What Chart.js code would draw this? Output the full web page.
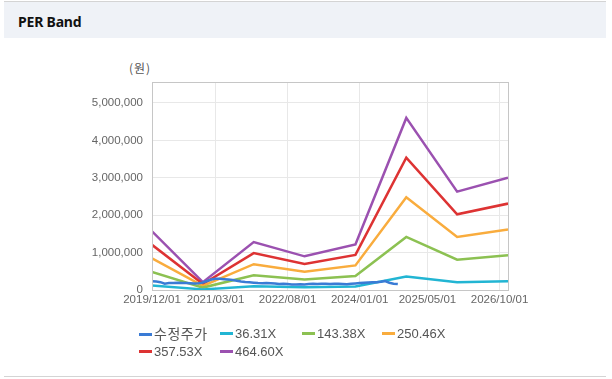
<!DOCTYPE html>
<html>
<head>
<meta charset="utf-8">
<script src="https://cdn.jsdelivr.net/npm/chart.js@4/dist/chart.umd.min.js"></script>
<style>
  html, body { margin:0; padding:0; background:#ffffff; }
  #wrap { position:relative; width:612px; height:379px; overflow:hidden; background:#ffffff;
          font-family:"Liberation Sans","Noto Sans CJK KR",Arial,sans-serif; }
  #topline { position:absolute; left:4px; top:1px; width:602px; height:1px; background:#d4d4d4; }
  #header { position:absolute; left:4px; top:2px; width:602px; height:36px; background:#eff2f7; }
  #title { position:absolute; left:14px; top:10px; font-size:14px; font-weight:bold; color:#111;
           font-family:"Noto Sans","Liberation Sans",sans-serif; letter-spacing:-0.2px; }
  #bottomline { position:absolute; left:4px; top:376px; width:602px; height:1px; background:#d4d4d4; }
  #unit { position:absolute; left:129px; top:59px; font-size:12px; color:#555; letter-spacing:1px;
          font-family:"Noto Sans CJK KR",sans-serif; }
  canvas { position:absolute; left:0; top:0; }
  .lg { position:absolute; font-size:13px; color:#555; height:16px; line-height:16px; white-space:nowrap;
        font-family:"Liberation Sans","Noto Sans CJK KR",sans-serif; }
  .lg i { display:inline-block; width:13px; height:3px; vertical-align:middle; margin-right:2px; position:relative; top:-1px; }
  .lg .ko { font-size:14px; letter-spacing:0.5px; }
</style>
</head>
<body>
<div id="wrap">
  <div id="topline"></div>
  <div id="header"><div id="title">PER Band</div></div>
  <div id="unit">(원)</div>
  <canvas id="c" width="612" height="379"></canvas>
  <div id="legend"></div>
  <div id="bottomline"></div>
</div>
<script>
// ---- data ----
const seriesNames = ['수정주가', '36.31X', '143.38X', '250.46X', '357.53X', '464.60X'];
const seriesColors = ['#3a7bd5', '#22b5d3', '#8cc152', '#f9ac3d', '#dd3333', '#9b51b0'];

const bandDates = ['2019/12/01','2020/12/01','2021/12/01','2022/12/01','2023/12/01','2024/12/01','2025/12/01','2026/12/01'];
const band36 =  [122700, 16300, 100000, 70300, 95400, 359500, 205500, 234600];
const band143 = [484600, 64500, 395000, 277700, 376500, 1419500, 811500, 926200];
const band250 = [846600, 112700, 690000, 485100, 657700, 2479600, 1417600, 1618000];
const band357 = [1208000, 160900, 985000, 692500, 938900, 3539500, 2023600, 2309600];
const band464 = [1570000, 209000, 1280000, 900000, 1220000, 4600000, 2630000, 3000000];

const priceStart = '2019/12/01';
const priceValues = [
  235000, 225000, 210000, 170000, 185000, 190000, 195000, 190000, 185000, 180000, 175000, 180000,
  200000, 240000, 280000, 300000, 300000, 290000, 280000, 265000, 250000, 230000, 215000, 205000,
  195000, 185000, 180000, 185000, 180000, 175000, 160000, 165000, 160000, 150000, 145000, 155000,
  150000, 160000, 165000, 160000, 170000, 165000, 160000, 170000, 165000, 160000, 155000, 165000,
  175000, 185000, 195000, 200000, 205000, 210000, 220000, 240000, 195000, 170000, 160000
];

const xTickLabels = ['2019/12/01','2021/03/01','2022/08/01','2024/01/01','2025/05/01','2026/10/01'];
const yTickValues = [0, 1000000, 2000000, 3000000, 4000000, 5000000];
const axisStart = '2019/12/01';
const axisEnd = '2026/12/01';

// ---- helpers ----
function monthIndex(s) {
  const p = s.split('/').map(Number);
  const b = axisStart.split('/').map(Number);
  return (p[0] - b[0]) * 12 + (p[1] - b[1]);
}
const bandX = bandDates.map(monthIndex);
const priceX0 = monthIndex(priceStart);
const bands = [band36, band143, band250, band357, band464];

const datasets = [];
datasets.push({
  label: seriesNames[0],
  data: priceValues.map((v, i) => ({ x: priceX0 + i, y: v })),
  borderColor: seriesColors[0], backgroundColor: seriesColors[0],
  borderWidth: 2.5, pointRadius: 0, tension: 0
});
bands.forEach((arr, k) => {
  datasets.push({
    label: seriesNames[k + 1],
    data: arr.map((v, i) => ({ x: bandX[i], y: v })),
    borderColor: seriesColors[k + 1], backgroundColor: seriesColors[k + 1],
    borderWidth: 2.5, pointRadius: 0, tension: 0
  });
});

const xTickPos = xTickLabels.map(monthIndex);

const boxPlugin = {
  id: 'box',
  afterDraw(chart) {
    const a = chart.chartArea, ctx = chart.ctx;
    ctx.save();
    ctx.strokeStyle = '#c6c6c6';
    ctx.lineWidth = 1;
    ctx.strokeRect(Math.round(a.left) + 0.5, Math.round(a.top) + 0.5,
                   Math.round(a.right - a.left), Math.round(a.bottom - a.top));
    ctx.restore();
  }
};

new Chart(document.getElementById('c'), {
  type: 'line',
  data: { datasets },
  options: {
    responsive: false,
    animation: false,
    layout: { padding: { left: 0, right: 104, top: 82, bottom: 69 } },
    plugins: { legend: { display: false }, tooltip: { enabled: false } },
    scales: {
      x: {
        type: 'linear',
        min: 0,
        max: monthIndex(axisEnd),
        afterBuildTicks(scale) { scale.ticks = xTickPos.map(v => ({ value: v })); },
        afterFit(scale) { scale.height = 20; },
        ticks: {
          autoSkip: false, maxRotation: 0, padding: 3,
          color: '#666', font: { size: 11.5, family: '"Liberation Sans", Arial, sans-serif' },
          callback: (v) => { const i = xTickPos.indexOf(v); return i >= 0 ? xTickLabels[i] : ''; }
        },
        grid: { color: '#e8e8e8', drawTicks: false },
        border: { color: '#c6c6c6' }
      },
      y: {
        min: 0,
        max: 5560000,
        afterBuildTicks(scale) { scale.ticks = yTickValues.map(v => ({ value: v })); },
        afterFit(scale) { scale.width = 152; },
        ticks: {
          padding: 9,
          color: '#666', font: { size: 11.5, family: '"Liberation Sans", Arial, sans-serif' },
          callback: (v) => Number(v).toLocaleString('en-US')
        },
        grid: { color: '#e8e8e8', drawTicks: false },
        border: { color: '#c6c6c6' }
      }
    }
  },
  plugins: [boxPlugin]
});

// ---- HTML legend ----
const legendPos = [[139, 326], [220, 326], [302, 326], [382, 326], [139, 344], [220, 344]];
const lg = document.getElementById('legend');
seriesNames.forEach((n, i) => {
  const d = document.createElement('div');
  d.className = 'lg';
  d.style.left = legendPos[i][0] + 'px';
  d.style.top = legendPos[i][1] + 'px';
  const txt = /[가-힣]/.test(n) ? '<span class="ko">' + n + '</span>' : n;
  d.innerHTML = '<i style="background:' + seriesColors[i] + '"></i>' + txt;
  lg.appendChild(d);
});
</script>
</body>
</html>
